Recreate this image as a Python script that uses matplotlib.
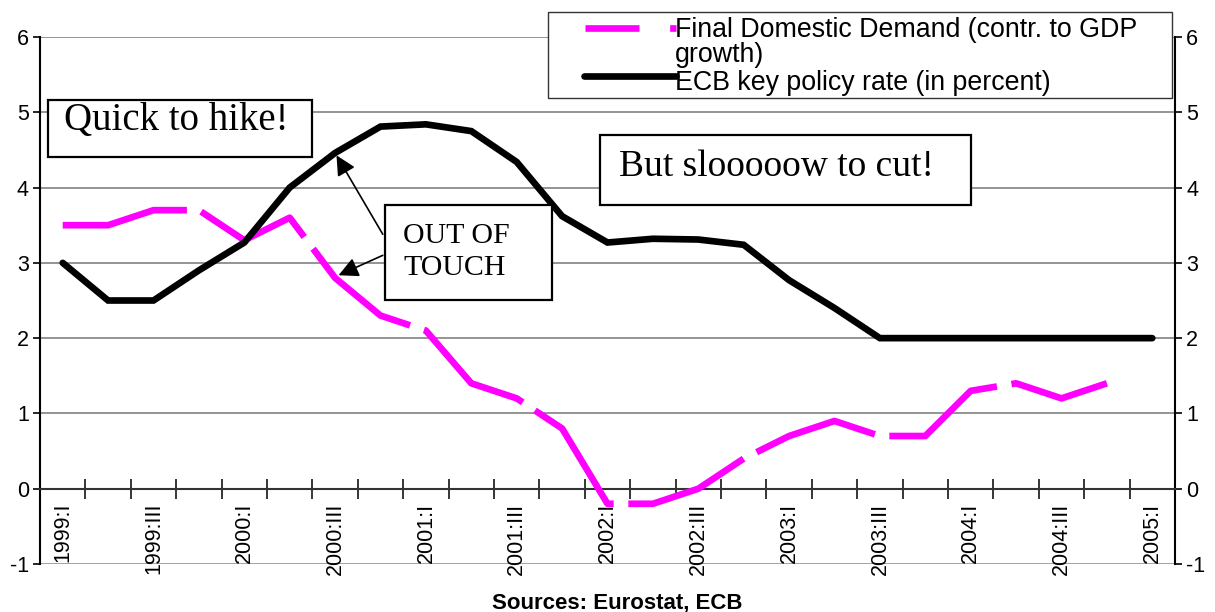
"""
ECB key policy rate vs final domestic demand, 1999-2005 (quarterly).
"""

import matplotlib.pyplot as plt
from matplotlib.patches import Rectangle
from matplotlib.lines import Line2D

W, H = 1215, 612

quarters = [
    "1999:I", "1999:II", "1999:III", "1999:IV",
    "2000:I", "2000:II", "2000:III", "2000:IV",
    "2001:I", "2001:II", "2001:III", "2001:IV",
    "2002:I", "2002:II", "2002:III", "2002:IV",
    "2003:I", "2003:II", "2003:III", "2003:IV",
    "2004:I", "2004:II", "2004:III", "2004:IV",
    "2005:I",
]
# final domestic demand, contribution to GDP growth (no 2005:I value)
fdd = [3.5, 3.5, 3.7, 3.7, 3.3, 3.6, 2.8, 2.3, 2.1, 1.4, 1.2, 0.8,
       -0.2, -0.2, 0.0, 0.4, 0.7, 0.9, 0.7, 0.7, 1.3, 1.4, 1.2, 1.4]
# ECB key policy rate, percent
ecb = [3.0, 2.5, 2.5, 2.9, 3.27, 4.0, 4.46, 4.81, 4.84, 4.75, 4.34, 3.62,
       3.27, 3.32, 3.31, 3.24, 2.77, 2.40, 2.0, 2.0, 2.0, 2.0, 2.0, 2.0, 2.0]
yticks = [-1, 0, 1, 2, 3, 4, 5, 6]

MAGENTA = "#ff00ff"
SANS = "Liberation Sans"
SERIF = "Liberation Serif"
LW = 4.8


def fx(px):
    return px / W


def fy(py):
    return 1 - py / H


fig = plt.figure(figsize=(W / 100, H / 100), dpi=100)
ax = fig.add_axes([fx(40), fy(564), fx(1175) - fx(40), fy(37) - fy(564)])

x_fdd = list(range(len(fdd)))
x_ecb = list(range(len(ecb)))

# grid lines and bottom border of the plot area
for v in yticks[2:]:
    ax.axhline(v, color="#777777", lw=1.1, zorder=1)
ax.axhline(-1, color="#888888", lw=1.8, zorder=1)

ax.plot(x_fdd, fdd, color=MAGENTA, lw=LW, dashes=(19, 2.2),
        solid_capstyle="butt", dash_capstyle="butt", zorder=3)
ax.plot(x_ecb, ecb, color="black", lw=LW, solid_capstyle="round",
        solid_joinstyle="miter", zorder=4)

ax.set_xlim(-0.5, len(quarters) - 0.5)
ax.set_ylim(-1, 6)
ax.set_yticks(yticks)
ax.set_yticklabels([str(v) for v in yticks])
ax.tick_params(axis="y", left=True, right=True, labelleft=True, labelright=True,
               direction="out", length=5, width=1.2, labelsize=15.5, pad=3)
for lab in ax.get_yticklabels():
    lab.set_fontfamily(SANS)

ax.spines["bottom"].set_position(("data", 0))
ax.spines["top"].set_visible(False)
for s in ["left", "right", "bottom"]:
    ax.spines[s].set_linewidth(1.5)
ax.spines["bottom"].set_color("#333333")

# tick marks at category borders, labels at category centres
ax.set_xticks([i + 0.5 for i in range(len(quarters) - 1)])
ax.set_xticklabels([])
ax.tick_params(axis="x", which="major", direction="inout", length=14, width=1.1)
ax.set_xticks(range(len(quarters)), minor=True)
ax.set_xticklabels([q if i % 2 == 0 else "" for i, q in enumerate(quarters)],
                   minor=True, rotation=90, ha="center", va="top",
                   fontsize=15.5, family=SANS)
ax.tick_params(axis="x", which="minor", length=0, pad=10)

# arrows from the "OUT OF TOUCH" box
arrow = dict(arrowstyle="-|>", color="black", lw=1.2, mutation_scale=30,
             shrinkA=0, shrinkB=2)
ax.annotate("", xy=(6, ecb[6]), xytext=(7.05, 3.38), arrowprops=arrow, zorder=6)
ax.annotate("", xy=(6.02, 2.82), xytext=(7.05, 3.1), arrowprops=arrow, zorder=6)


def text_box(x0, y0, x1, y1, lw=1.6):
    fig.add_artist(Rectangle((fx(x0), fy(y1)), fx(x1) - fx(x0), fy(y0) - fy(y1),
                             transform=fig.transFigure, facecolor="white",
                             edgecolor="black", lw=lw, zorder=5))


text_box(48, 100, 312, 157)
fig.text(fx(176), fy(121), "Quick to hike!", family=SERIF, fontsize=28,
         ha="center", va="center", zorder=6)

text_box(600, 135, 971, 205)
fig.text(fx(776), fy(167), "But slooooow to cut!", family=SERIF, fontsize=27,
         ha="center", va="center", zorder=6)

text_box(385, 205, 552, 300)
fig.text(fx(403), fy(252), "OUT OF\nTOUCH", family=SERIF, fontsize=21.5,
         ha="left", va="center", linespacing=1.3, zorder=6)

# legend
fig.add_artist(Rectangle((fx(548), fy(98)), fx(1172) - fx(548), fy(12) - fy(98),
                         transform=fig.transFigure, facecolor="white",
                         edgecolor="#333333", lw=1.0, zorder=5))
fig.add_artist(Line2D([fx(585), fx(676)], [fy(28), fy(28)], color=MAGENTA, lw=LW,
                      dashes=(8.1, 4.6), dash_capstyle="butt",
                      transform=fig.transFigure, zorder=6))
fig.add_artist(Line2D([fx(584), fx(676)], [fy(76), fy(76)], color="black", lw=LW,
                      solid_capstyle="round", transform=fig.transFigure, zorder=6))
fig.text(fx(675), fy(37), "Final Domestic Demand (contr. to GDP",
         family=SANS, fontsize=19.3, ha="left", va="baseline", zorder=7)
fig.text(fx(675), fy(62), "growth)",
         family=SANS, fontsize=19.3, ha="left", va="baseline", zorder=7)
fig.text(fx(675), fy(90), "ECB key policy rate (in percent)",
         family=SANS, fontsize=19.3, ha="left", va="baseline", zorder=7)

fig.text(fx(617), fy(603), "Sources: Eurostat, ECB", family=SANS, fontsize=16,
         fontweight="bold", ha="center", va="center")

fig.savefig("out.png", dpi=100)
